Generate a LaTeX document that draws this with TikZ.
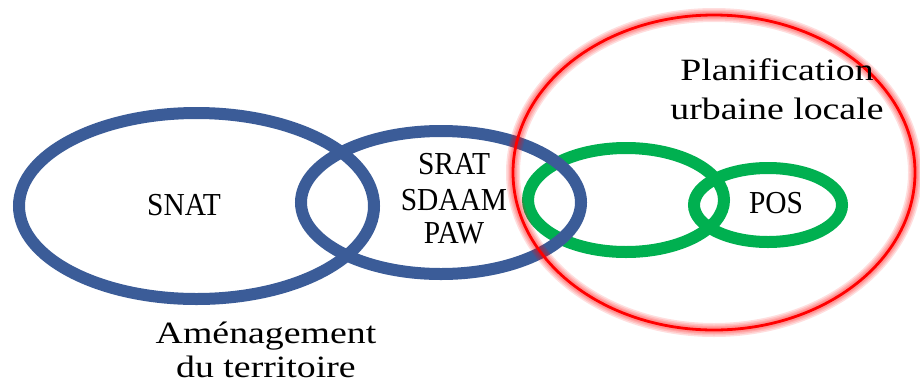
\documentclass[tikz,border=0pt]{standalone}
\usepackage{fontspec}
\setmainfont{Liberation Serif}
\newfontfamily\widelabel{Liberation Serif}[FakeStretch=1.22]
\newfontfamily\caplabel{Liberation Serif}[FakeStretch=0.92]
\definecolor{setblue}{RGB}{59,92,152}
\definecolor{setgreen}{RGB}{0,176,80}
\definecolor{setred}{RGB}{255,0,0}
\begin{document}
\begin{tikzpicture}[x=1pt,y=-1pt,
  bluering/.style={draw=setblue,line width=12pt},
  greenring/.style={draw=setgreen,line width=12pt},
  redring/.style={draw=setred,line width=2.8pt},
  redglow/.style={draw=setred,line width=#1,opacity=0.13},
  caps/.style={anchor=base,inner sep=0pt,font=\caplabel\fontsize{32}{36}\selectfont},
  words/.style={anchor=base,inner sep=0pt,font=\widelabel\fontsize{31}{36}\selectfont}]
\useasboundingbox (0,0) rectangle (920,389);
\fill[white] (0,0) rectangle (920,389);

% local planning sets
\draw[greenring] (626,200) ellipse [x radius=98pt, y radius=52pt];
\draw[greenring] (768,205) ellipse [x radius=74pt, y radius=37pt];

% regional planning sets
\draw[bluering] (196.5,206) ellipse [x radius=177.5pt, y radius=93pt];
\draw[bluering] (441,202.5) ellipse [x radius=140pt, y radius=71.5pt];

% urban planning boundary with a soft halo
\foreach \w in {14pt,11pt,8pt,6pt}
  \draw[redglow=\w] (714,172.5) ellipse [x radius=201pt, y radius=157.5pt];
\draw[redring] (714,172.5) ellipse [x radius=201pt, y radius=157.5pt];

% labels
\node[caps] (snat) at (184,215) {SNAT};
\node[caps] (srat) at (454,174) {SRAT};
\node[caps] (sdaam) at (454,210) {SDAAM};
\node[caps] (paw) at (454,243) {PAW};
\node[caps] (pos) at (776,213) {POS};
\node[words] (plan1) at (777,80) {Planification};
\node[words] (plan2) at (777,119) {urbaine locale};
\node[words] (amen1) at (266,343) {Aménagement};
\node[words] (amen2) at (266,377) {du territoire};
\end{tikzpicture}
\end{document}
